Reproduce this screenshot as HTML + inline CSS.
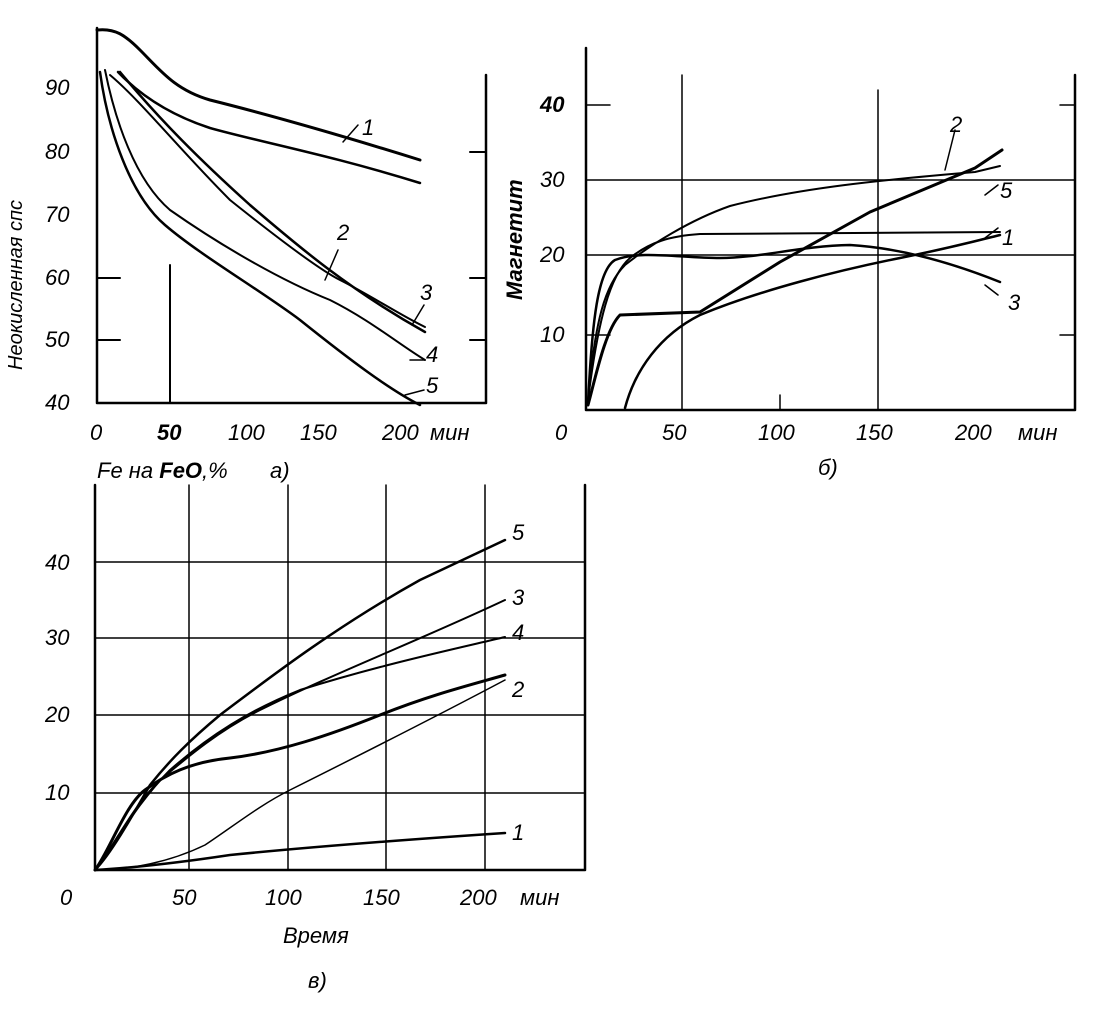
<!DOCTYPE html>
<html><head><meta charset="utf-8"><style>
html,body{margin:0;padding:0;background:#fff;}
svg{display:block}
text{font-family:"Liberation Sans",sans-serif;font-style:italic;fill:#000;}
</style></head><body>
<svg width="1102" height="1022" viewBox="0 0 1102 1022" xmlns="http://www.w3.org/2000/svg">
<g fill="none" stroke="#000" stroke-linecap="round" stroke-linejoin="round">
<!-- Panel a axes -->
<path d="M97 28 V403 H486 V75" stroke-width="2.5"/>
<path d="M170 265 V403 M97 340 H120 M97 278 H120 M470 340 H486 M470 152 H486 M470 278 H486" stroke-width="2"/>
<!-- a curves -->
<path d="M97 30 C115 28 125 35 140 50 C160 70 175 90 210 100 C270 115 340 135 420 160" stroke-width="3"/>
<path d="M118 72 C140 95 170 115 210 128 C260 142 330 155 420 183" stroke-width="2.5"/>
<path d="M110 75 C140 100 180 150 230 200 C280 240 320 270 340 280 C370 295 400 315 425 327" stroke-width="2"/>
<path d="M120 72 C160 120 200 160 250 205 C300 248 350 290 425 332" stroke-width="2.5"/>
<path d="M105 70 C115 120 135 180 170 210 C220 245 280 280 330 300 C370 320 400 345 425 360" stroke-width="2"/>
<path d="M100 72 C108 130 130 195 165 225 C200 255 260 290 300 320 C350 360 390 390 420 405" stroke-width="2.5"/>
<path d="M343 142 L358 125 M325 280 L338 250 M412 325 L424 305 M410 360 L424 360 M405 395 L424 390" stroke-width="1.5"/>
<!-- Panel b axes -->
<path d="M586 48 V410 H1075 V75" stroke-width="2.5"/>
<path d="M682 75 V410 M878 90 V410 M780 395 V410 M586 180 H1075 M586 255 H1075 M586 105 H610 M586 335 H610 M1060 105 H1075 M1060 335 H1075" stroke-width="1.5"/>
<!-- b curves -->
<path d="M588 405 C595 380 605 330 620 315 L700 312 L780 262 L870 212 L975 168 L1002 150" stroke-width="3"/>
<path d="M588 400 C595 320 605 285 625 265 C650 245 690 220 730 206 C800 188 880 180 975 172 L1000 166" stroke-width="2"/>
<path d="M588 405 C592 320 598 270 615 260 C640 250 680 258 720 258 C760 258 800 246 850 245 C900 248 950 262 1000 282" stroke-width="2.5"/>
<path d="M588 400 C598 320 610 275 630 258 C650 242 670 236 700 234 L1000 232" stroke-width="2"/>
<path d="M625 408 C635 370 660 335 700 315 C760 290 840 270 900 258 C950 248 980 240 1000 235" stroke-width="2.5"/>
<path d="M945 170 L955 130 M985 195 L998 185 M985 238 L998 228 M985 285 L998 295" stroke-width="1.5"/>
<!-- Panel c axes -->
<path d="M95 485 V870 H585 V485" stroke-width="2.5"/>
<path d="M189 485 V870 M288 485 V870 M386 485 V870 M485 485 V870 M95 793 H585 M95 715 H585 M95 638 H585 M95 562 H585" stroke-width="1.5"/>
<!-- c curves -->
<path d="M95 870 C110 855 130 820 150 785 C170 760 190 740 220 715 C260 685 330 630 420 580 L505 540" stroke-width="2.5"/>
<path d="M95 870 C115 845 130 810 160 780 C190 755 220 730 260 710 C330 675 420 640 505 600" stroke-width="2"/>
<path d="M95 870 C115 845 135 805 170 770 C210 735 250 710 300 690 C380 665 450 650 505 637" stroke-width="2"/>
<path d="M95 870 C110 850 125 805 145 790 C165 775 190 762 230 758 C280 752 330 735 380 715 C430 695 470 685 505 675" stroke-width="3"/>
<path d="M95 870 C130 870 170 862 205 845 C235 825 260 805 290 790 C350 760 420 725 505 680" stroke-width="1.5"/>
<path d="M95 870 C130 868 170 864 230 855 C300 848 400 840 505 833" stroke-width="2.5"/>
</g>
<g font-size="22">
<!-- a labels -->
<text x="45" y="410">40</text><text x="45" y="347">50</text><text x="45" y="285">60</text><text x="45" y="222">70</text><text x="45" y="159">80</text><text x="45" y="95">90</text>
<text x="90" y="440">0</text><text x="157" y="440" font-weight="bold">50</text><text x="228" y="440">100</text><text x="300" y="440">150</text><text x="382" y="440">200</text><text x="430" y="440">мин</text>
<text x="362" y="135">1</text><text x="337" y="240">2</text><text x="420" y="300">3</text><text x="426" y="362">4</text><text x="426" y="393">5</text>
<text transform="translate(22,370) rotate(-90)" font-size="20">Неокисленная спс</text>
<text x="97" y="478">Fe на <tspan font-weight="bold">FeO</tspan>,%</text><text x="270" y="478">a)</text>
<!-- b labels -->
<text x="540" y="112" font-weight="bold">40</text><text x="540" y="187">30</text><text x="540" y="262">20</text><text x="540" y="342">10</text>
<text x="555" y="440">0</text><text x="662" y="440">50</text><text x="758" y="440">100</text><text x="856" y="440">150</text><text x="955" y="440">200</text><text x="1018" y="440">мин</text>
<text x="950" y="132">2</text><text x="1000" y="198">5</text><text x="1002" y="245">1</text><text x="1008" y="310">3</text>
<text transform="translate(522,300) rotate(-90)" font-weight="bold" font-size="22">Магнетит</text>
<text x="818" y="475">б)</text>
<!-- c labels -->
<text x="45" y="570">40</text><text x="45" y="645">30</text><text x="45" y="722">20</text><text x="45" y="800">10</text><text x="60" y="905">0</text>
<text x="172" y="905">50</text><text x="265" y="905">100</text><text x="363" y="905">150</text><text x="460" y="905">200</text><text x="520" y="905">мин</text>
<text x="512" y="540">5</text><text x="512" y="605">3</text><text x="512" y="640">4</text><text x="512" y="697">2</text><text x="512" y="840">1</text>
<text x="283" y="943">Время</text><text x="308" y="988">в)</text>
</g>
</svg>
</body></html>
